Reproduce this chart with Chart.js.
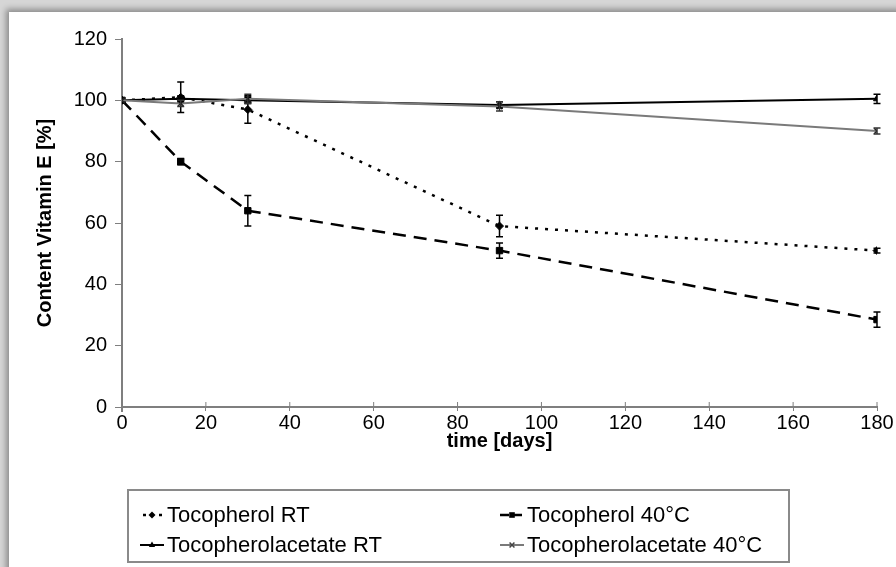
<!DOCTYPE html>
<html>
<head>
<meta charset="utf-8">
<script src="https://cdn.jsdelivr.net/npm/chart.js@4/dist/chart.umd.min.js"></script>
<style>
  html, body { margin: 0; padding: 0; width: 896px; height: 567px; overflow: hidden; background: #d6d6d6; }
  #card { position: absolute; left: 9px; top: 12px; width: 900px; height: 570px; background: #fff;
          box-shadow: -3px -3px 6px rgba(0,0,0,0.35); }
  #wrap { position: absolute; left: 0; top: 0; width: 896px; height: 567px; }
</style>
</head>
<body>
<div id="card"></div>
<div id="wrap"><canvas id="c" width="896" height="567"></canvas></div>
<script>
// ---- data ----
const days = [0, 14, 30, 90, 180];
const seriesNames = ["Tocopherol RT", "Tocopherol 40°C", "Tocopherolacetate RT", "Tocopherolacetate 40°C"];
const tocoRT = [100, 101, 97, 59, 51];
const tocoRTerr = [0, 5, 4.5, 3.5, 0.8];
const toco40 = [100, 80, 64, 51, 28.5];
const toco40err = [0, 1, 5, 2.5, 2.5];
const acetRT = [100, 100.5, 100, 98.5, 100.5];
const acetRTerr = [0, 1, 1, 1, 1.5];
const acet40 = [100, 99, 100.5, 98, 90];
const acet40err = [0, 1, 1.5, 1.5, 1];
const xTicks = [0, 20, 40, 60, 80, 100, 120, 140, 160, 180];
const yTicks = [0, 20, 40, 60, 80, 100, 120];

const FONT = "'Liberation Sans', Arial, sans-serif";

function pts(vals) { return days.map((d, i) => ({ x: d, y: vals[i] })); }

const styles = [
  { color: '#000', dash: [3, 7], width: 2.5, marker: 'rectRot', r: 4, errColor: '#000' },
  { color: '#000', dash: [13, 8], width: 2.5, marker: 'rect', r: 4.5, errColor: '#000' },
  { color: '#000', dash: [], width: 2, marker: 'triangle', r: 4, errColor: '#000' },
  { color: '#7a7a7a', dash: [], width: 2, marker: 'crossRot', r: 4, errColor: '#333' }
];
const values = [tocoRT, toco40, acetRT, acet40];
const errors = [tocoRTerr, toco40err, acetRTerr, acet40err];

const datasets = values.map((v, i) => ({
  label: seriesNames[i],
  data: pts(v),
  errors: errors[i],
  showLine: true,
  borderColor: styles[i].color,
  backgroundColor: styles[i].color,
  borderWidth: styles[i].width,
  borderDash: styles[i].dash,
  pointStyle: styles[i].marker,
  pointRadius: styles[i].r,
  pointBorderWidth: styles[i].marker === 'crossRot' ? 1.5 : 1,
  pointBorderColor: i === 3 ? '#222' : '#000',
  pointBackgroundColor: styles[i].color,
  tension: 0,
  order: 4 - i
}));

const errorBars = {
  id: 'errorBars',
  afterDatasetsDraw(chart) {
    const ctx = chart.ctx, ys = chart.scales.y;
    chart.data.datasets.forEach((ds, di) => {
      const meta = chart.getDatasetMeta(di);
      ctx.save();
      ctx.strokeStyle = styles[di].errColor;
      ctx.lineWidth = 1.5;
      ctx.setLineDash([]);
      meta.data.forEach((p, i) => {
        const e = ds.errors[i];
        if (!e) return;
        const v = ds.data[i].y;
        const y1 = ys.getPixelForValue(v + e), y2 = ys.getPixelForValue(v - e);
        ctx.beginPath();
        ctx.moveTo(p.x, y1); ctx.lineTo(p.x, y2);
        ctx.moveTo(p.x - 3.5, y1); ctx.lineTo(p.x + 3.5, y1);
        ctx.moveTo(p.x - 3.5, y2); ctx.lineTo(p.x + 3.5, y2);
        ctx.stroke();
      });
      ctx.restore();
    });
  }
};

const innerTicks = {
  id: 'innerTicks',
  beforeDatasetsDraw(chart) {
    const ctx = chart.ctx, xs = chart.scales.x, ys = chart.scales.y;
    ctx.save();
    ctx.strokeStyle = '#7f7f7f';
    ctx.lineWidth = 1;
    const yb = ys.getPixelForValue(0);
    xTicks.forEach(t => {
      const x = xs.getPixelForValue(t);
      ctx.beginPath(); ctx.moveTo(x, yb); ctx.lineTo(x, yb - 5); ctx.stroke();
    });
    ctx.lineWidth = 2;
    const x0 = xs.getPixelForValue(0);
    ctx.beginPath(); ctx.moveTo(x0, yb); ctx.lineTo(x0, yb + 5); ctx.stroke();
    ctx.restore();
  }
};

function drawMarker(ctx, style, x, y, r, color) {
  ctx.save();
  ctx.fillStyle = color; ctx.strokeStyle = color; ctx.setLineDash([]);
  ctx.lineWidth = 1.5;
  ctx.beginPath();
  if (style === 'rectRot') {
    ctx.moveTo(x, y - r); ctx.lineTo(x + r, y); ctx.lineTo(x, y + r); ctx.lineTo(x - r, y); ctx.closePath(); ctx.fill();
  } else if (style === 'rect') {
    ctx.rect(x - r * 0.8, y - r * 0.8, r * 1.6, r * 1.6); ctx.fill();
  } else if (style === 'triangle') {
    ctx.moveTo(x, y - r); ctx.lineTo(x + r * 0.9, y + r * 0.6); ctx.lineTo(x - r * 0.9, y + r * 0.6); ctx.closePath(); ctx.fill();
  } else {
    const d = r * 0.7;
    ctx.moveTo(x - d, y - d); ctx.lineTo(x + d, y + d); ctx.moveTo(x + d, y - d); ctx.lineTo(x - d, y + d); ctx.stroke();
  }
  ctx.restore();
}

const boxLegend = {
  id: 'boxLegend',
  afterDraw(chart) {
    const ctx = chart.ctx;
    ctx.save();
    ctx.strokeStyle = '#8a8a8a';
    ctx.lineWidth = 2;
    ctx.setLineDash([]);
    ctx.strokeRect(128, 490, 661, 72);
    const cols = [140, 500];
    const rows = [515, 545];
    ctx.font = '22px ' + FONT;
    ctx.fillStyle = '#000';
    ctx.textBaseline = 'middle';
    chart.data.datasets.forEach((ds, i) => {
      const x0 = cols[i % 2], y = rows[Math.floor(i / 2)];
      const st = styles[i];
      ctx.strokeStyle = st.color;
      ctx.lineWidth = st.width;
      ctx.setLineDash(st.dash.length ? (i === 0 ? [3, 5] : [9, 4]) : []);
      ctx.beginPath(); ctx.moveTo(x0 + (i === 0 ? 3 : 0), y); ctx.lineTo(x0 + 24, y); ctx.stroke();
      drawMarker(ctx, st.marker, x0 + 12, y, 3.5, i === 3 ? '#444' : '#000');
      ctx.fillStyle = '#000';
      ctx.fillText(ds.label, x0 + 27, y + 1);
    });
    ctx.restore();
  }
};

new Chart(document.getElementById('c'), {
  type: 'scatter',
  data: { datasets },
  options: {
    responsive: false,
    animation: false,
    layout: { padding: { left: 12, top: 39, right: 19, bottom: 112 } },
    plugins: { legend: { display: false }, tooltip: { enabled: false } },
    scales: {
      x: {
        type: 'linear', min: 0, max: 180,
        afterFit(s) { s.height = 48; },
        afterBuildTicks(s) { s.ticks = xTicks.map(v => ({ value: v })); },
        grid: { display: true, drawOnChartArea: false, drawTicks: true, tickLength: 4, color: '#7f7f7f', lineWidth: 1 },
        border: { display: true, color: '#7f7f7f', width: 2 },
        ticks: { color: '#000', font: { family: FONT, size: 20 }, padding: 0, maxRotation: 0 },
        title: { display: true, text: 'time [days]', color: '#000', font: { family: FONT, size: 20, weight: 'bold' }, padding: { top: 0, bottom: 2 } }
      },
      y: {
        type: 'linear', min: 0, max: 120,
        afterFit(s) { s.width = 110; },
        afterBuildTicks(s) { s.ticks = yTicks.map(v => ({ value: v })); },
        grid: { display: true, drawOnChartArea: false, drawTicks: true, tickLength: 7, color: '#7f7f7f', lineWidth: 1 },
        border: { display: true, color: '#7f7f7f', width: 2 },
        ticks: { color: '#000', font: { family: FONT, size: 20 }, padding: 8 },
        title: { display: true, text: 'Content Vitamin E [%]', color: '#000', font: { family: FONT, size: 20, weight: 'bold' }, padding: { top: 21, bottom: 0 } }
      }
    }
  },
  plugins: [innerTicks, errorBars, boxLegend]
});
</script>
</body>
</html>
